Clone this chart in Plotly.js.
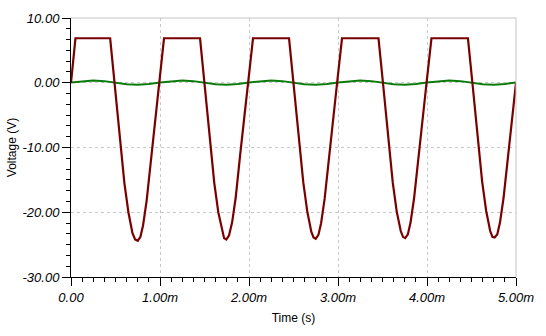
<!DOCTYPE html>
<html>
<head>
<meta charset="utf-8">
<script src="https://cdn.plot.ly/plotly-3.0.1.min.js"></script>
<style>html,body{margin:0;padding:0;background:#fff;}#chart{width:546px;height:336px;}</style>
</head>
<body>
<div id="chart"></div>
<script>
// Time in ms
var redTime = [
  0.000, 0.050, 0.440, 0.490, 0.550, 0.600, 0.645, 0.690, 0.720, 0.750, 0.780, 0.810, 0.850, 0.900, 0.950, 0.990,
  1.045, 1.450, 1.500, 1.560, 1.610, 1.655, 1.700, 1.720, 1.745, 1.775, 1.810, 1.850, 1.900, 1.950, 1.990,
  2.045, 2.450, 2.500, 2.560, 2.610, 2.655, 2.700, 2.725, 2.750, 2.780, 2.810, 2.850, 2.900, 2.950, 2.990,
  3.045, 3.455, 3.505, 3.565, 3.615, 3.660, 3.705, 3.730, 3.755, 3.785, 3.815, 3.855, 3.905, 3.955, 3.995,
  4.050, 4.460, 4.510, 4.570, 4.620, 4.665, 4.710, 4.735, 4.760, 4.790, 4.820, 4.860, 4.910, 4.960, 5.000
];
var redVolt = [
  0.0, 6.87, 6.87, 0.0, -9.0, -15.5, -20.0, -23.2, -24.2, -24.4, -23.8, -22.0, -18.2, -11.5, -5.0, 0.0,
  6.87, 6.87, 0.0, -9.0, -15.5, -20.0, -23.1, -24.0, -24.2, -23.6, -21.6, -17.8, -11.2, -4.8, 0.0,
  6.87, 6.87, 0.0, -9.0, -15.4, -19.9, -23.0, -23.9, -24.1, -23.5, -21.7, -17.9, -11.2, -4.8, 0.0,
  6.87, 6.87, 0.0, -9.0, -15.4, -19.9, -22.9, -23.8, -24.0, -23.4, -21.6, -17.8, -11.1, -4.7, 0.0,
  6.87, 6.87, 0.0, -9.0, -15.3, -19.8, -22.9, -23.8, -23.9, -23.4, -21.6, -17.8, -11.1, -4.5, 0.0
];
var greenTime = [
  0.000, 0.125, 0.250, 0.375, 0.500, 0.625, 0.750, 0.875,
  1.000, 1.125, 1.250, 1.375, 1.500, 1.625, 1.750, 1.875,
  2.000, 2.125, 2.250, 2.375, 2.500, 2.625, 2.750, 2.875,
  3.000, 3.125, 3.250, 3.375, 3.500, 3.625, 3.750, 3.875,
  4.000, 4.125, 4.250, 4.375, 4.500, 4.625, 4.750, 4.875, 5.000
];
var greenVolt = [
  0.05, 0.25, 0.35, 0.25, 0.00, -0.22, -0.30, -0.20,
  0.05, 0.25, 0.35, 0.25, 0.00, -0.22, -0.30, -0.20,
  0.05, 0.25, 0.35, 0.25, 0.00, -0.22, -0.30, -0.20,
  0.05, 0.25, 0.35, 0.25, 0.00, -0.22, -0.30, -0.20,
  0.05, 0.25, 0.35, 0.25, 0.00, -0.22, -0.30, -0.20, 0.05
];
var xTickVals = [0, 1, 2, 3, 4, 5];
var xTickText = ['0.00', '1.00m', '2.00m', '3.00m', '4.00m', '5.00m'];
var yTickVals = [10, 0, -10, -20, -30];
var yTickText = ['10.00', '0.00', '-10.00', '-20.00', '-30.00'];

var fontFam = 'Liberation Sans, Arial, sans-serif';
var traces = [
  {x: greenTime, y: greenVolt, type: 'scatter', mode: 'lines', line: {color: '#0a7a0a', width: 2}, hoverinfo: 'skip'},
  {x: redTime, y: redVolt, type: 'scatter', mode: 'lines', line: {color: '#7a0000', width: 2.2}, hoverinfo: 'skip'}
];
var layout = {
  width: 546, height: 336,
  margin: {l: 71, r: 30, t: 18, b: 59},
  paper_bgcolor: '#ffffff', plot_bgcolor: '#ffffff',
  showlegend: false,
  font: {family: fontFam, size: 12, color: '#000'},
  xaxis: {
    range: [0, 5], tickvals: xTickVals, ticktext: xTickText,
    ticks: 'outside', ticklen: 8, tickcolor: '#000', tickwidth: 1,
    showline: true, linecolor: '#000', linewidth: 1,
    showgrid: true, gridcolor: '#c8c8c8', griddash: '3px,3px', gridwidth: 1,
    zeroline: false,
    tickfont: {family: fontFam, size: 13, color: '#000', style: 'italic'},
    minor: {dtick: 0.125, tick0: 0, ticks: 'outside', ticklen: 4, tickcolor: '#000', showgrid: false},
    title: {text: 'Time (s)', font: {family: fontFam, size: 12, color: '#000'}, standoff: 10},
    fixedrange: true
  },
  yaxis: {
    range: [-30, 10], tickvals: yTickVals, ticktext: yTickText,
    ticks: 'outside', ticklen: 8, tickcolor: '#000', tickwidth: 1,
    showline: true, linecolor: '#000', linewidth: 1,
    showgrid: true, gridcolor: '#c8c8c8', griddash: '3px,3px', gridwidth: 1,
    zeroline: false,
    tickfont: {family: fontFam, size: 13, color: '#000', style: 'italic'},
    minor: {dtick: 10/6, tick0: 0, ticks: 'outside', ticklen: 4, tickcolor: '#000', showgrid: false},
    title: {text: 'Voltage (V)', font: {family: fontFam, size: 12, color: '#000'}, standoff: 3},
    fixedrange: true
  },
  shapes: [
    {type: 'line', xref: 'paper', yref: 'paper', x0: 0, x1: 1, y0: 1, y1: 1, line: {color: '#c4c4c4', width: 1}},
    {type: 'line', xref: 'paper', yref: 'paper', x0: 1, x1: 1, y0: 0, y1: 1, line: {color: '#c4c4c4', width: 1}}
  ]
};
Plotly.newPlot('chart', traces, layout, {displayModeBar: false, staticPlot: true});
</script>
</body>
</html>
